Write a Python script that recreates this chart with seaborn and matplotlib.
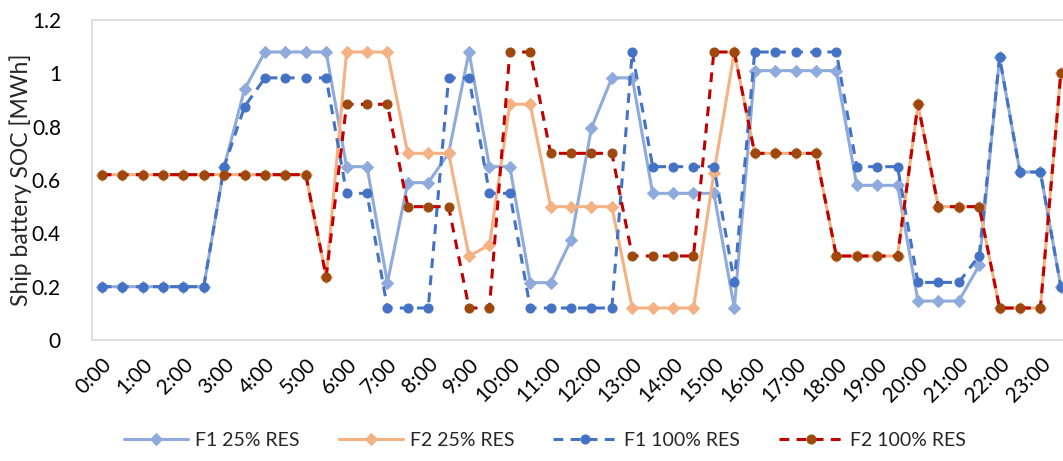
import matplotlib
matplotlib.use("Agg")
import matplotlib.pyplot as plt
import seaborn as sns
import numpy as np
from matplotlib.ticker import FuncFormatter

# ---- data (half-hour steps, 48 points) ----
hour_labels = [f"{h}:00" for h in range(24)]
f1_25 = [0.2, 0.2, 0.2, 0.2, 0.2, 0.2, 0.65, 0.94, 1.08, 1.08, 1.08, 1.08,
         0.65, 0.65, 0.215, 0.59, 0.59, 0.70, 1.08, 0.65, 0.65, 0.215, 0.215, 0.375,
         0.795, 0.983, 0.983, 0.55, 0.55, 0.55, 0.55, 0.12, 1.01, 1.01, 1.01, 1.01,
         1.01, 0.58, 0.58, 0.58, 0.146, 0.146, 0.146, 0.28, 1.06, 0.63, 0.63, 0.2]
f2_25 = [0.62, 0.62, 0.62, 0.62, 0.62, 0.62, 0.62, 0.62, 0.62, 0.62, 0.62, 0.237,
         1.08, 1.08, 1.08, 0.70, 0.70, 0.70, 0.315, 0.356, 0.884, 0.884, 0.5, 0.5,
         0.5, 0.5, 0.12, 0.12, 0.12, 0.12, 0.625, 1.08, 0.70, 0.70, 0.70, 0.70,
         0.315, 0.315, 0.315, 0.315, 0.884, 0.5, 0.5, 0.5, 0.12, 0.12, 0.12, 1.0]
f1_100 = [0.2, 0.2, 0.2, 0.2, 0.2, 0.2, 0.65, 0.875, 0.983, 0.983, 0.983, 0.983,
          0.55, 0.55, 0.12, 0.12, 0.12, 0.983, 0.983, 0.55, 0.55, 0.12, 0.12, 0.12,
          0.12, 0.12, 1.08, 0.65, 0.65, 0.65, 0.65, 0.216, 1.08, 1.08, 1.08, 1.08,
          1.08, 0.65, 0.65, 0.65, 0.216, 0.216, 0.216, 0.316, 1.06, 0.63, 0.63, 0.2]
f2_100 = [0.62, 0.62, 0.62, 0.62, 0.62, 0.62, 0.62, 0.62, 0.62, 0.62, 0.62, 0.237,
          0.884, 0.884, 0.884, 0.5, 0.5, 0.5, 0.12, 0.12, 1.08, 1.08, 0.70, 0.70,
          0.70, 0.70, 0.315, 0.315, 0.315, 0.315, 1.08, 1.08, 0.70, 0.70, 0.70, 0.70,
          0.315, 0.315, 0.315, 0.315, 0.884, 0.5, 0.5, 0.5, 0.12, 0.12, 0.12, 1.0]
series_names = ["F1 25% RES", "F2 25% RES", "F1 100% RES", "F2 100% RES"]

sns.set_theme(style="white")
plt.rcParams['font.family'] = ['Lato', 'DejaVu Sans']

fig = plt.figure(figsize=(10.63, 4.61), dpi=100)
ax = fig.add_axes([91.5 / 1063, 121 / 461, (1071 - 91.5) / 1063, 320 / 461])

x = np.arange(len(f1_25))
styles = [
    (f1_25, "#8FAADC", "#8FAADC", "-", "D", 6.0),
    (f2_25, "#F4B183", "#F4B183", "-", "D", 6.0),
    (f1_100, "#4472C4", "#4472C4", (0, (3.2, 2.4)), "o", 6.5),
    (f2_100, "#C00000", "#9E480E", (0, (3.2, 2.4)), "o", 6.5),
]
handles = []
for (vals, lc, mc, ls, mk, ms), name in zip(styles, series_names):
    sns.lineplot(x=x, y=vals, ax=ax, color=lc, linewidth=2.2, linestyle=ls,
                 marker=mk, markersize=ms, markerfacecolor=mc, markeredgecolor=mc,
                 label=name, legend=False, zorder=3)
    handles.append(ax.lines[-1])

ax.set_xlim(-0.5, 47.5)
ax.set_ylim(0, 1.2)
ax.set_yticks(np.arange(0, 1.21, 0.2))
ax.yaxis.set_major_formatter(FuncFormatter(lambda v, p: f"{v:g}" if abs(v) > 1e-9 else "0"))
ax.set_xticks(np.arange(0, 48, 2))
ax.set_xticklabels(hour_labels, rotation=45, ha="right", va="top", rotation_mode="anchor")
ax.tick_params(axis="both", length=0, labelsize=15, colors="#000000")
ax.tick_params(axis="y", pad=22)
ax.tick_params(axis="x", pad=10)
ax.set_ylabel("Ship battery SOC [MWh]", fontsize=16.5, labelpad=4)
ax.yaxis.set_label_coords(-60 / (1071 - 91.5), 0.5)
ax.set_xlabel("")
for s in ax.spines.values():
    s.set_color("#D9D9D9")
    s.set_linewidth(1.2)
ax.spines["right"].set_visible(False)
ax.grid(False)

fig.legend(handles=handles, labels=series_names, loc="center",
           bbox_to_anchor=(545 / 1063, 1 - 440 / 461), ncol=4, frameon=False,
           fontsize=14, handlelength=3.3, columnspacing=2.0, handletextpad=0.36)

fig.savefig("out.png", dpi=100)
